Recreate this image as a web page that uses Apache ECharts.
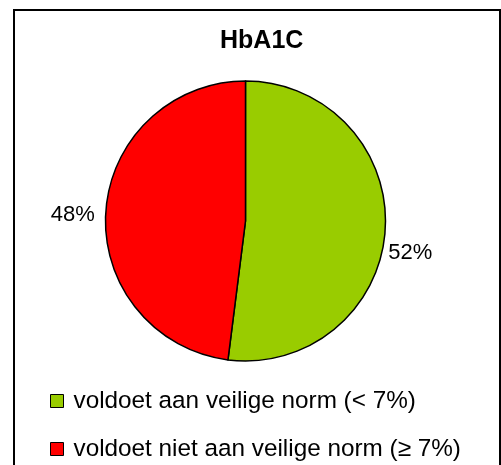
<!DOCTYPE html>
<html>
<head>
<meta charset="utf-8">
<script src="https://cdn.jsdelivr.net/npm/echarts@6/dist/echarts.min.js"></script>
<style>
  html, body { margin: 0; padding: 0; background: #fff; }
  #chart { width: 501px; height: 465px; }
</style>
</head>
<body>
<div id="chart"></div>
<script>
    'use strict';

    var chartTitle = 'HbA1C';
    var categories = [
        'voldoet aan veilige norm (< 7%)',
        'voldoet niet aan veilige norm (\u2265 7%)'
    ];
    var values = [52, 48];
    var colors = ['#99CC00', '#FF0000'];

    // small nudges so the percent labels sit where the original has them
    var labelShift = [[0, 23], [-8, 3]];

    var font = "'Liberation Sans', Arial, sans-serif";

    var chart = echarts.init(document.getElementById('chart'), null, { renderer: 'canvas' });

    var option = {
        backgroundColor: '#fff',
        animation: false,
        title: {
            text: chartTitle,
            left: 220,
            top: 29,
            padding: 0,
            textStyle: { fontFamily: font, fontSize: 25, fontWeight: 'bold', color: '#000' }
        },
        legend: {
            orient: 'vertical',
            left: 50,
            top: 389,
            height: 120,
            padding: 0,
            icon: 'rect',
            itemWidth: 13,
            itemHeight: 13,
            itemGap: 24,
            itemStyle: { borderColor: '#000', borderWidth: 1 },
            textStyle: { fontFamily: font, fontSize: 24.3, color: '#000', padding: [0, 0, 0, 5] },
            data: categories
        },
        graphic: [{
            type: 'rect',
            shape: { x: 14, y: 10, width: 486, height: 470 },
            style: { fill: null, stroke: '#000', lineWidth: 2 },
            silent: true
        }],
        series: [{
            type: 'pie',
            center: [245.5, 221],
            radius: 140,
            startAngle: 90,
            clockwise: true,
            avoidLabelOverlap: false,
            itemStyle: { borderColor: '#000', borderWidth: 1.5 },
            label: {
                show: true,
                position: 'outside',
                formatter: '{c}%',
                distanceToLabelLine: 3,
                fontFamily: font,
                fontSize: 22,
                color: '#000'
            },
            labelLine: { show: false, length: 0, length2: 0 },
            labelLayout: function (params) {
                var s = labelShift[params.dataIndex] || [0, 0];
                return { dx: s[0], dy: s[1] };
            },
            emphasis: { disabled: true },
            data: categories.map(function (name, i) {
                return { name: name, value: values[i], itemStyle: { color: colors[i] } };
            })
        }]
    };

    chart.setOption(option);
</script>
</body>
</html>
